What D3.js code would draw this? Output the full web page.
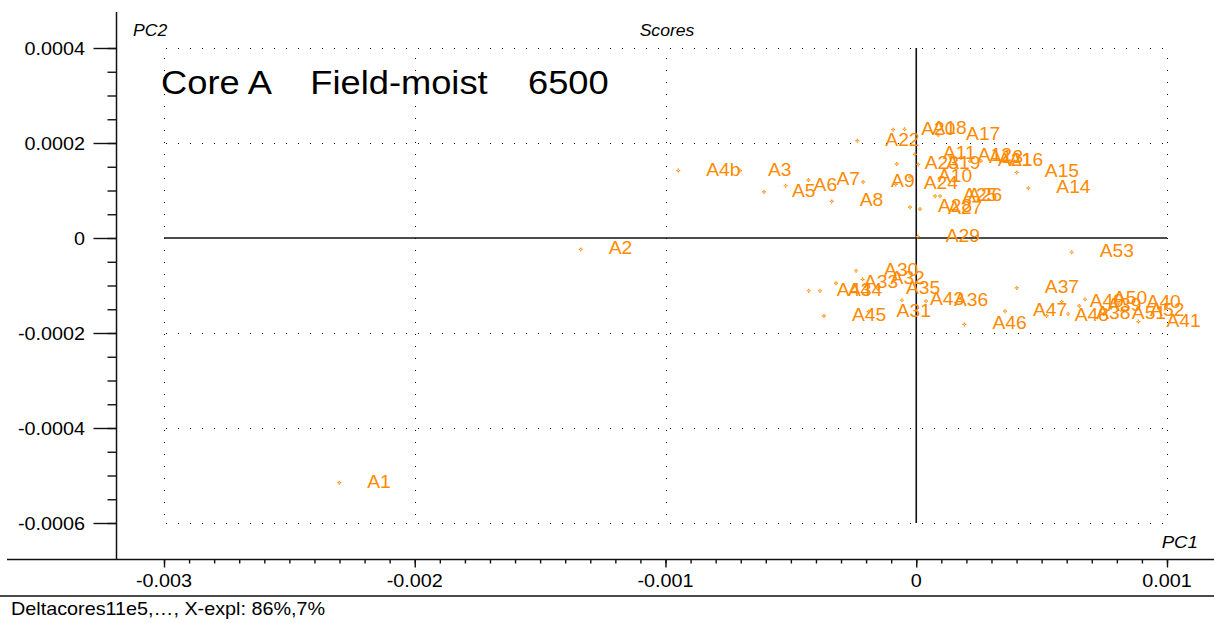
<!DOCTYPE html>
<html>
<head>
<meta charset="utf-8">
<style>
  body { margin: 0; background: #fff; }
  text { font-family: "Liberation Sans", Arial, sans-serif; fill: #000; white-space: pre; }
</style>
</head>
<body>
<script src="https://d3js.org/d3.v7.min.js"></script>
<script>
// sample names and PCA scores (PC1, PC2)
const names = ["A1","A2","A3","A4b","A5","A6","A7","A8","A9","A10",
  "A11","A12","A13","A14","A15","A16","A17","A18","A19","A20",
  "A21","A22","A23","A24","A25","A26","A27","A28","A29","A30",
  "A31","A32","A33","A34","A35","A36","A37","A38","A39","A40",
  "A41","A43","A44","A45","A46","A47","A48","A49","A50","A51","A52","A53"];
const pc1 = [-0.002301,-0.001338,-0.000703,-0.000949,-0.000607,-0.000521,-0.000430,-0.000337,-0.000212,-0.000025,
  -0.000005,0.000134,0.000178,0.000447,0.000401,0.000258,0.000087,-0.000047,0.000008,-0.000092,
  0.000214,-0.000235,-0.000078,-0.000082,0.000075,0.000095,0.000015,-0.000025,0.000006,-0.000240,
  -0.000190,-0.000214,-0.000320,-0.000384,-0.000153,0.000039,0.000401,0.000606,0.000650,0.000807,
  0.000886,-0.000057,-0.000429,-0.000368,0.000192,0.000354,0.000520,0.000580,0.000673,0.000748,0.000821,0.000620];
const pc2 = [-0.000515,-0.000024,0.000142,0.000142,0.000097,0.000110,0.000122,0.000077,0.000118,0.000128,
  0.000176,0.000173,0.000169,0.000105,0.000138,0.000162,0.000217,0.000229,0.000155,0.000228,
  0.000162,0.000205,0.000156,0.000113,0.000088,0.000088,0.000061,0.000065,0.000003,-0.000069,
  -0.000155,-0.000087,-0.000095,-0.000111,-0.000107,-0.000133,-0.000105,-0.000160,-0.000143,-0.000137,
  -0.000176,-0.000131,-0.000111,-0.000164,-0.000182,-0.000154,-0.000164,-0.000134,-0.000129,-0.000160,-0.000154,-0.000030];
const xTicks = [-0.003, -0.002, -0.001, 0, 0.001];
const xTickLabels = ["-0.003", "-0.002", "-0.001", "0", "0.001"];
const yTicks = [-0.0006, -0.0004, -0.0002, 0, 0.0002, 0.0004];
const yTickLabels = ["-0.0006", "-0.0004", "-0.0002", "0", "0.0002", "0.0004"];

const W = 1214, H = 623, SX = 1.1, orange = "#ff8a00";

const svg = d3.select("body").append("svg").attr("width", W).attr("height", H);

const x = d3.scaleLinear().domain([-0.003, 0.001]).range([164, 1167]);
const y = d3.scaleLinear().domain([-0.0006, 0.0004]).range([523, 48]);

// text is a bit wide in the original, so stretch it horizontally
function txt(g, s, tx, ty, size, anchor, italic) {
  return g.append("text")
    .attr("transform", `translate(${tx},${ty}) scale(${SX},1)`)
    .attr("font-size", size)
    .attr("text-anchor", anchor || "start")
    .attr("font-style", italic ? "italic" : null)
    .text(s);
}

// dotted grid
const grid = svg.append("g").attr("stroke", "#000").attr("stroke-width", 1)
  .attr("stroke-dasharray", "1,11").attr("shape-rendering", "crispEdges");
grid.selectAll("line.h").data(yTicks.filter(d => d !== 0)).join("line")
  .attr("x1", x(-0.003) + 2).attr("x2", x(0.001))
  .attr("y1", d => Math.round(y(d)) + 0.5).attr("y2", d => Math.round(y(d)) + 0.5);
grid.selectAll("line.v").data(xTicks.filter(d => d !== 0)).join("line")
  .attr("x1", d => Math.round(x(d)) + 0.5).attr("x2", d => Math.round(x(d)) + 0.5)
  .attr("y1", y(0.0004) + 10).attr("y2", y(-0.0006));

// zero lines
svg.append("line").attr("x1", x(-0.003)).attr("x2", x(0.001))
  .attr("y1", y(0)).attr("y2", y(0)).attr("stroke", "#111").attr("stroke-width", 1.4);
svg.append("line").attr("x1", x(0)).attr("x2", x(0))
  .attr("y1", y(0.0004)).attr("y2", y(-0.0006)).attr("stroke", "#111").attr("stroke-width", 1.6);

// x axis
const axY = 559.5;
svg.append("line").attr("x1", 7).attr("x2", W).attr("y1", axY).attr("y2", axY)
  .attr("stroke", "#111").attr("stroke-width", 1.5);
const xMinor = svg.append("g").attr("transform", `translate(0,${axY})`)
  .call(d3.axisBottom(x).tickValues(d3.range(-30, 11).map(d => d * 1e-4)).tickSize(4).tickSizeOuter(0).tickFormat(""));
const xMajor = svg.append("g").attr("transform", `translate(0,${axY})`)
  .call(d3.axisBottom(x).tickValues(xTicks).tickSize(8).tickSizeOuter(0).tickFormat(""));
[xMinor, xMajor].forEach(g => { g.select(".domain").remove(); g.selectAll("line").attr("stroke", "#111").attr("stroke-width", 1.4); });
const xl = svg.append("g");
xTicks.forEach((d, i) => txt(xl, xTickLabels[i], x(d), 587, 18, "middle"));

// y axis
const axX = 116.5;
svg.append("line").attr("x1", axX).attr("x2", axX).attr("y1", 12).attr("y2", axY)
  .attr("stroke", "#111").attr("stroke-width", 1.5);
const yMinor = svg.append("g").attr("transform", `translate(${axX},0)`)
  .call(d3.axisLeft(y).tickValues(d3.range(-12, 9).map(d => d * 0.5e-4)).tickSize(9).tickSizeOuter(0).tickFormat(""));
const yMajor = svg.append("g").attr("transform", `translate(${axX},0)`)
  .call(d3.axisLeft(y).tickValues(yTicks).tickSize(23).tickSizeOuter(0).tickFormat(""));
[yMinor, yMajor].forEach(g => { g.select(".domain").remove(); g.selectAll("line").attr("stroke", "#111").attr("stroke-width", 1.4); });
const yl = svg.append("g");
yTicks.forEach((d, i) => txt(yl, yTickLabels[i], 85, y(d) + 7, 18, "end"));

// titles
const t = svg.append("g");
txt(t, "PC2", 133, 36, 16, "start", true);
txt(t, "Scores", 667, 36, 16, "middle", true);
txt(t, "PC1", 1198, 548, 17, "end", true);
txt(t, "Core A    Field-moist    6500", 161, 94, 33, "start");
txt(t, "Deltacores11e5,\u2026, X-expl: 86%,7%", 11, 615, 18, "start");
svg.append("line").attr("x1", 0).attr("x2", W).attr("y1", 596).attr("y2", 596)
  .attr("stroke", "#111").attr("stroke-width", 1.5);

// score points
const pts = svg.append("g").selectAll("g").data(names).join("g")
  .attr("transform", (d, i) => `translate(${x(pc1[i])},${y(pc2[i])})`);
pts.append("path").attr("d", "M-2,0H-0.5M0.5,0H2M0,-2V-0.5M0,0.5V2")
  .attr("stroke", orange).attr("stroke-width", 1.2).attr("fill", "none");
pts.append("text")
  .attr("transform", `translate(28,5) scale(${SX},1)`)
  .attr("font-size", 17.5)
  .style("fill", orange)
  .text(d => d);
</script>
</body>
</html>
